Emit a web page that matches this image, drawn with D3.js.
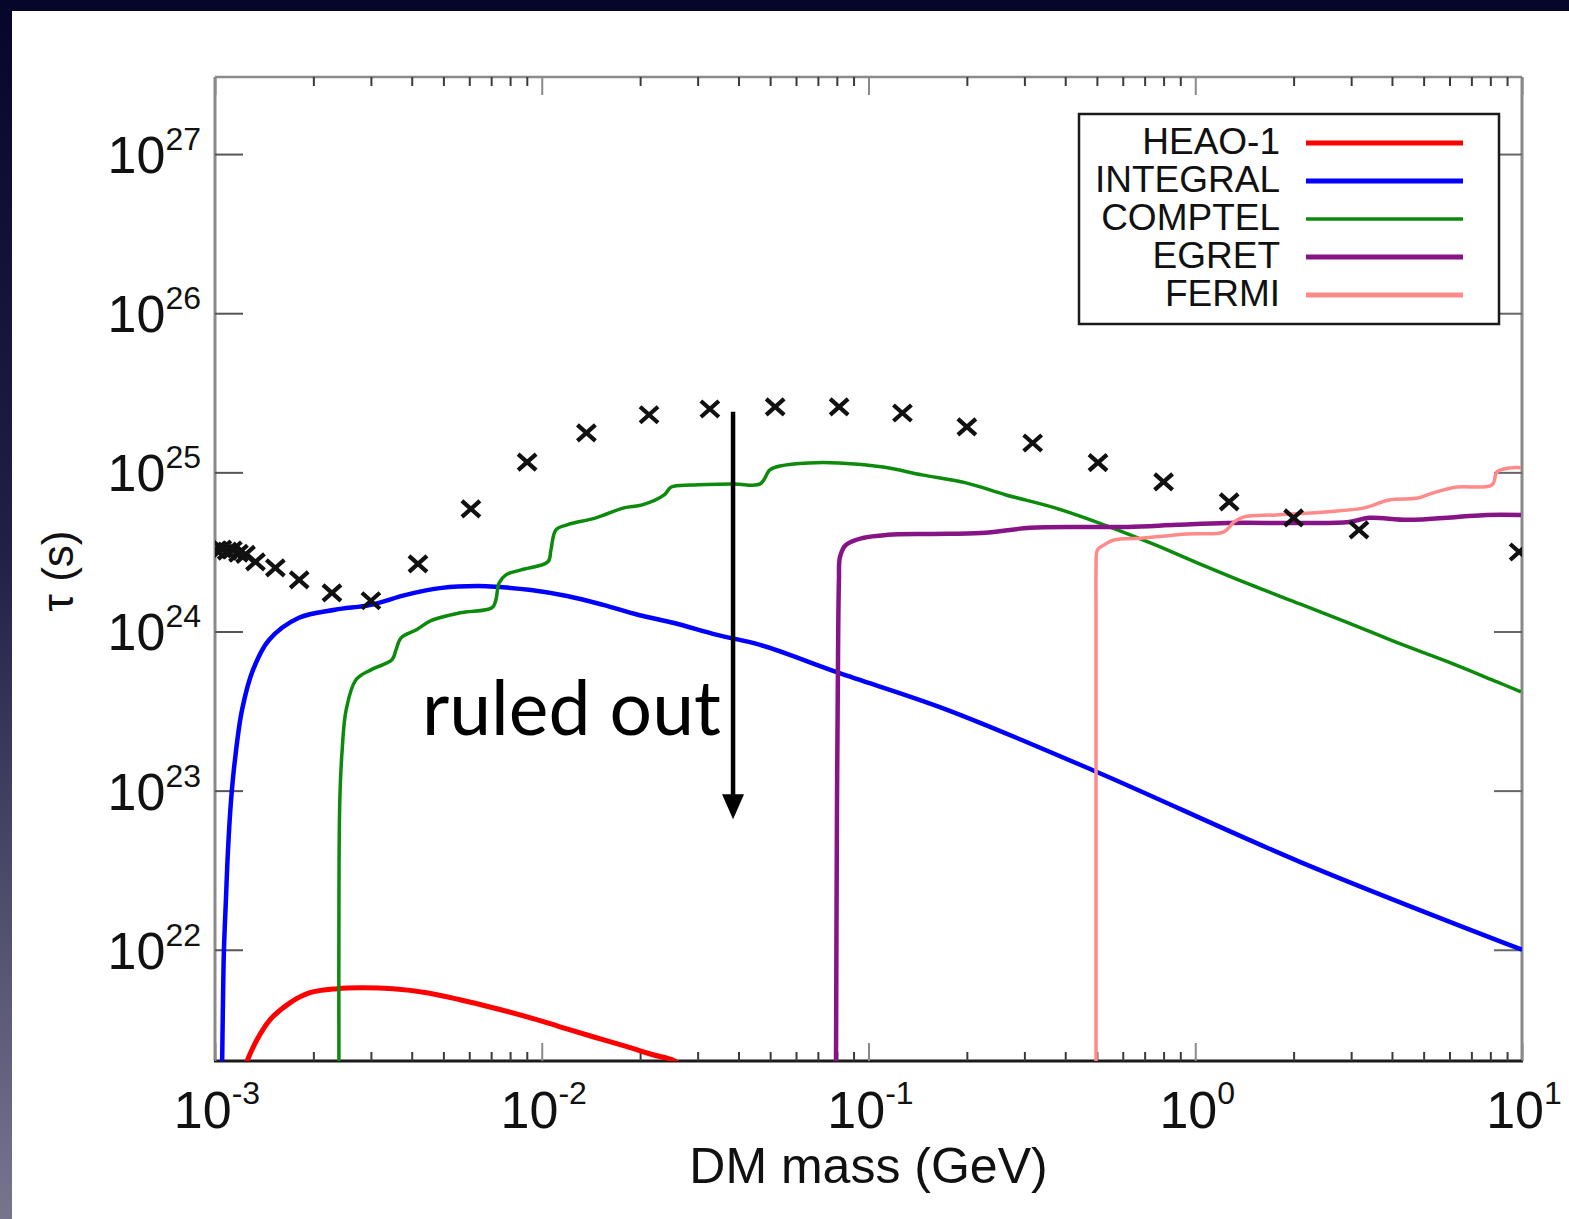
<!DOCTYPE html>
<html>
<head>
<meta charset="utf-8">
<script src="https://cdn.jsdelivr.net/npm/d3@7"></script>
<style>
  body { margin: 0; overflow: hidden; background: #fff; }
  svg { display: block; }
</style>
</head>
<body>
<div id="app"></div>
<script>
// ---- data (mass in GeV, lifetime tau in s) ----
const instruments = ["HEAO-1", "INTEGRAL", "COMPTEL", "EGRET", "FERMI"];
const instrumentColors = ["#ff0000", "#0000ff", "#0c8a0c", "#861486", "#ff8a8a"];
const instrumentWidths = [5, 4.5, 3.5, 4.5, 3.5];

const heao1 = [
  [1.24e-3, 1.9e21], [1.344e-3, 2.72e21], [1.473e-3, 3.63e21], [1.696e-3, 4.64e21],
  [1.953e-3, 5.37e21], [2.362e-3, 5.69e21], [2.78e-3, 5.77e21], [3.51e-3, 5.69e21],
  [4.45e-3, 5.37e21], [5.62e-3, 4.85e21], [7.09e-3, 4.32e21], [9.02e-3, 3.79e21],
  [1.137e-2, 3.28e21], [1.435e-2, 2.84e21], [1.823e-2, 2.46e21], [2.19e-2, 2.19e21],
  [2.50e-2, 2.04e21], [2.65e-2, 1.9e21]
];

const integral = [
  [1.05e-3, 1.5e21], [1.058e-3, 4.85e21], [1.065e-3, 1e22], [1.08e-3, 2.06e22],
  [1.096e-3, 4.25e22], [1.12e-3, 8.75e22], [1.151e-3, 1.56e23], [1.21e-3, 3.22e23],
  [1.307e-3, 5.74e23], [1.463e-3, 8.85e23], [1.807e-3, 1.22e24], [2.33e-3, 1.37e24],
  [3.0e-3, 1.47e24], [3.84e-3, 1.70e24], [4.95e-3, 1.88e24], [6.38e-3, 1.93e24],
  [7.24e-3, 1.91e24], [9.27e-3, 1.82e24], [1.195e-2, 1.67e24], [1.54e-2, 1.47e24],
  [1.98e-2, 1.27e24], [2.54e-2, 1.13e24], [3.44e-2, 9.52e23], [4.66e-2, 8.24e23],
  [8.12e-2, 5.49e23], [0.174, 3.22e23], [0.500, 1.31e23], [2.09, 3.57e22], [10, 1e22]
];

const comptel = [
  [2.395e-3, 1.5e21], [2.395e-3, 2.06e22], [2.41e-3, 8.75e22], [2.45e-3, 1.80e23],
  [2.52e-3, 3.22e23], [2.70e-3, 4.97e23], [3.00e-3, 5.74e23], [3.48e-3, 6.64e23],
  [3.58e-3, 7.66e23], [3.71e-3, 9.12e23], [4.15e-3, 1.03e24], [4.58e-3, 1.17e24],
  [5.62e-3, 1.31e24], [7.04e-3, 1.41e24], [7.24e-3, 1.58e24], [7.40e-3, 2.02e24],
  [7.77e-3, 2.27e24], [8.64e-3, 2.44e24], [1.045e-2, 2.74e24], [1.067e-2, 3.26e24],
  [1.105e-2, 4.35e24], [1.195e-2, 4.68e24], [1.466e-2, 5.18e24], [1.785e-2, 5.98e24],
  [2.03e-2, 6.24e24], [2.37e-2, 7.21e24], [2.49e-2, 8.09e24], [2.88e-2, 8.33e24],
  [3.88e-2, 8.46e24], [4.66e-2, 8.46e24], [4.99e-2, 1.035e25], [5.36e-2, 1.096e25],
  [6.57e-2, 1.146e25], [8.12e-2, 1.146e25], [0.1108, 1.08e25], [0.1458, 9.64e24],
  [0.1988, 8.59e24], [0.2635, 7.21e24], [0.3722, 5.98e24], [0.5256, 4.68e24],
  [0.742, 3.55e24], [1.049, 2.62e24], [1.481, 1.96e24], [2.09, 1.49e24],
  [2.955, 1.13e24], [4.17, 8.47e23], [5.94, 6.44e23], [8.39, 4.82e23], [9.93, 4.18e23]
];

const egret = [
  [7.95e-2, 1.5e21], [8.01e-2, 8.75e22], [8.07e-2, 7.66e23], [8.12e-2, 2.11e24],
  [8.18e-2, 2.94e24], [8.53e-2, 3.50e24], [9.62e-2, 3.87e24], [0.1147, 4.05e24],
  [0.1564, 4.10e24], [0.2209, 4.16e24], [0.312, 4.48e24], [0.4407, 4.54e24],
  [0.6225, 4.54e24], [0.879, 4.68e24], [1.251, 4.81e24], [2.09, 4.81e24],
  [2.955, 4.88e24], [3.40, 5.18e24], [4.48, 5.03e24], [6.33, 5.25e24],
  [7.81, 5.40e24], [9.93, 5.40e24]
];

const fermi = [
  [0.497, 1.5e21], [0.497, 8.75e22], [0.497, 1.2e24], [0.497, 2.44e24],
  [0.499, 3.12e24], [0.504, 3.30e24], [0.5256, 3.50e24],
  [0.564, 3.76e24], [0.6919, 3.87e24], [0.9435, 4.10e24], [1.225, 4.23e24],
  [1.314, 4.88e24], [1.41, 5.25e24], [1.767, 5.40e24], [2.495, 5.64e24],
  [3.285, 5.98e24], [3.92, 6.71e24], [4.81, 6.90e24], [5.34, 7.43e24],
  [6.33, 8.09e24], [8.09, 8.33e24], [8.39, 1.007e25], [9.25, 1.067e25], [9.93, 1.067e25]
];

const crossMass = [
  1.01e-3, 1.05e-3, 1.09e-3, 1.13e-3, 1.18e-3, 1.24e-3, 1.33e-3, 1.53e-3, 1.81e-3,
  2.28e-3, 3.00e-3, 4.18e-3, 6.07e-3, 9.02e-3, 1.37e-2, 2.13e-2, 3.27e-2, 5.18e-2,
  8.13e-2, 0.127, 0.200, 0.318, 0.504, 0.80, 1.27, 2.0, 3.17, 9.8
];
const crossTau = [
  3.25e24, 3.3e24, 3.2e24, 3.25e24, 3.1e24, 3.05e24, 2.74e24, 2.51e24, 2.11e24,
  1.75e24, 1.56e24, 2.66e24, 5.89e24, 1.16e25, 1.77e25, 2.30e25, 2.50e25, 2.58e25,
  2.58e25, 2.36e25, 1.93e25, 1.53e25, 1.15e25, 8.71e24, 6.52e24, 5.18e24, 4.35e24, 3.16e24
];

const massTicks = [1e-3, 1e-2, 1e-1, 1, 10];
const massTickLabels = ["-3", "-2", "-1", "0", "1"];
const tauTicks = [1e22, 1e23, 1e24, 1e25, 1e26, 1e27];
const tauTickLabels = ["22", "23", "24", "25", "26", "27"];

// "ruled out" annotation (arrow pointing down at this mass)
const arrowMass = 0.0385;
const arrowTau = [2.4e25, 6.6e22];

// ---- layout ----
const screen = { width: 1569, height: 1219 };
const frame = { left: 215, right: 1522, top: 77, bottom: 1061 };
const font = "'Liberation Sans', Arial, Helvetica, sans-serif";

const scales = {
  x: d3.scaleLog().domain([1e-3, 10]).range([frame.left, frame.right]),
  y: d3.scaleLog().domain([2e21, 3.05e27]).range([frame.bottom, frame.top])
};

const createElements = () => {
  const { x, y } = scales;

  const svg = d3
    .create("svg")
    .attr("width", screen.width)
    .attr("height", screen.height);

  const defs = svg.append("defs");
  const grad = defs
    .append("linearGradient")
    .attr("id", "slideBg")
    .attr("x1", 0).attr("y1", 0).attr("x2", 0).attr("y2", 1);
  grad.append("stop").attr("offset", "0%").attr("stop-color", "#06062a");
  grad.append("stop").attr("offset", "45%").attr("stop-color", "#202046");
  grad.append("stop").attr("offset", "100%").attr("stop-color", "#77758e");

  defs
    .append("clipPath")
    .attr("id", "plotClip")
    .append("rect")
    .attr("x", frame.left)
    .attr("y", frame.top)
    .attr("width", frame.right - frame.left)
    .attr("height", frame.bottom - frame.top);

  svg.append("rect")
    .attr("width", screen.width)
    .attr("height", screen.height)
    .attr("fill", "url(#slideBg)");

  svg.append("rect")
    .attr("x", 12)
    .attr("y", 11)
    .attr("width", screen.width - 12)
    .attr("height", screen.height - 11)
    .attr("fill", "#ffffff");

  // frame
  const frameG = svg.append("g");
  frameG.append("line")
    .attr("x1", frame.left).attr("x2", frame.right)
    .attr("y1", frame.top).attr("y2", frame.top)
    .attr("stroke", "#8a8a8a").attr("stroke-width", 2.5);
  frameG.append("line")
    .attr("x1", frame.left).attr("x2", frame.left)
    .attr("y1", frame.top).attr("y2", frame.bottom)
    .attr("stroke", "#8a8a8a").attr("stroke-width", 3);
  frameG.append("line")
    .attr("x1", frame.right).attr("x2", frame.right)
    .attr("y1", frame.top).attr("y2", frame.bottom)
    .attr("stroke", "#8a8a8a").attr("stroke-width", 3);
  frameG.append("line")
    .attr("x1", frame.left - 1).attr("x2", frame.right + 1)
    .attr("y1", frame.bottom).attr("y2", frame.bottom)
    .attr("stroke", "#1a1a1a").attr("stroke-width", 3);

  // ticks (gnuplot style, pointing inward, mirrored)
  const minorMass = [];
  massTicks.slice(0, -1).forEach((d) => {
    for (let k = 2; k <= 9; k++) minorMass.push(d * k);
  });

  const tickAxis = (axisFn, scale, values, size, translate) => {
    const g = svg.append("g")
      .attr("transform", translate)
      .call(axisFn(scale).tickValues(values).tickSize(size).tickFormat(""));
    g.select(".domain").remove();
    g.selectAll(".tick line").attr("stroke", "#3a3a3a").attr("stroke-width", 2);
    return g;
  };

  tickAxis(d3.axisBottom, x, minorMass, -9, `translate(0,${frame.bottom})`);
  tickAxis(d3.axisBottom, x, massTicks, -18, `translate(0,${frame.bottom})`)
    .selectAll(".tick line").attr("stroke", "#8a8a8a");
  tickAxis(d3.axisTop, x, minorMass, -9, `translate(0,${frame.top})`);
  tickAxis(d3.axisTop, x, massTicks, -18, `translate(0,${frame.top})`)
    .selectAll(".tick line").attr("stroke", "#8a8a8a");
  tickAxis(d3.axisLeft, y, tauTicks, -28, `translate(${frame.left},0)`)
    .selectAll(".tick line").attr("stroke", "#555");
  tickAxis(d3.axisRight, y, tauTicks, -28, `translate(${frame.right},0)`)
    .selectAll(".tick line").attr("stroke", "#666");

  // tick labels with superscripts
  const xLabels = svg.append("g")
    .selectAll("text")
    .data(massTicks)
    .enter()
    .append("text")
    .attr("x", (d) => x(d) + 2)
    .attr("y", 1128)
    .attr("text-anchor", "middle")
    .attr("font-family", font)
    .attr("font-size", 52)
    .attr("fill", "#111");
  xLabels.append("tspan").text("10");
  xLabels.append("tspan")
    .attr("dy", -24)
    .attr("font-size", 32)
    .text((d, i) => massTickLabels[i]);

  const yLabels = svg.append("g")
    .selectAll("text")
    .data(tauTicks)
    .enter()
    .append("text")
    .attr("x", 201)
    .attr("y", (d) => y(d) + 19)
    .attr("text-anchor", "end")
    .attr("font-family", font)
    .attr("font-size", 52)
    .attr("fill", "#111");
  yLabels.append("tspan").text("10");
  yLabels.append("tspan")
    .attr("dy", -23)
    .attr("font-size", 32)
    .text((d, i) => tauTickLabels[i]);

  // axis titles
  svg.append("text")
    .attr("x", (frame.left + frame.right) / 2)
    .attr("y", 1183)
    .attr("text-anchor", "middle")
    .attr("font-family", font)
    .attr("font-size", 50)
    .attr("fill", "#111")
    .text("DM mass (GeV)");

  svg.append("text")
    .attr("transform", "translate(73,571) rotate(-90)")
    .attr("text-anchor", "middle")
    .attr("font-family", font)
    .attr("font-size", 44)
    .attr("fill", "#111")
    .text("τ (s)");

  // curves
  const plot = svg.append("g").attr("clip-path", "url(#plotClip)");
  const line = d3.line()
    .curve(d3.curveCatmullRom.alpha(0.5))
    .x((d) => x(d[0]))
    .y((d) => y(d[1]));

  const series = [heao1, integral, comptel, egret, fermi];
  plot.selectAll("path.curve")
    .data(series)
    .enter()
    .append("path")
    .attr("class", "curve")
    .attr("d", line)
    .attr("fill", "none")
    .attr("stroke", (d, i) => instrumentColors[i])
    .attr("stroke-width", (d, i) => instrumentWidths[i])
    .attr("stroke-linejoin", "round");

  // crosses
  const crosses = crossMass.map((m, i) => [m, crossTau[i]]);
  plot.selectAll("path.cross")
    .data(crosses)
    .enter()
    .append("path")
    .attr("class", "cross")
    .attr("transform", (d) => `translate(${x(d[0])},${y(d[1])})`)
    .attr("d", "M-9,-8L9,8M-9,8L9,-8")
    .attr("stroke", "#111")
    .attr("stroke-width", 4.2)
    .attr("fill", "none");

  // legend
  const legend = svg.append("g");
  legend.append("rect")
    .attr("x", 1079)
    .attr("y", 114)
    .attr("width", 420)
    .attr("height", 210)
    .attr("fill", "#fff")
    .attr("stroke", "#1a1a1a")
    .attr("stroke-width", 2.5);

  const entry = legend.selectAll("g.entry")
    .data(instruments)
    .enter()
    .append("g")
    .attr("class", "entry")
    .attr("transform", (d, i) => `translate(0,${143 + i * 38})`);
  entry.append("text")
    .attr("x", 1280)
    .attr("y", 11)
    .attr("text-anchor", "end")
    .attr("font-family", font)
    .attr("font-size", 37)
    .attr("fill", "#111")
    .text((d) => d);
  entry.append("line")
    .attr("x1", 1306)
    .attr("x2", 1463)
    .attr("stroke", (d, i) => instrumentColors[i])
    .attr("stroke-width", (d, i) => (i === 2 ? 3.5 : 5));

  // annotation
  const ax = x(arrowMass);
  const [ay0, ay1] = arrowTau.map(y);
  svg.append("line")
    .attr("x1", ax).attr("x2", ax)
    .attr("y1", ay0).attr("y2", ay1 - 20)
    .attr("stroke", "#000")
    .attr("stroke-width", 4.5);
  svg.append("path")
    .attr("d", `M${ax - 11},${ay1 - 25}L${ax + 11},${ay1 - 25}L${ax},${ay1}Z`)
    .attr("fill", "#000");

  svg.append("text")
    .attr("x", 422)
    .attr("y", 735)
    .attr("font-family", "Lato, 'Open Sans', sans-serif")
    .attr("font-size", 75)
    .attr("fill", "#000")
    .text("ruled out");

  return svg;
};

const app = document.getElementById("app");
app.append(createElements().node());
</script>
</body>
</html>
